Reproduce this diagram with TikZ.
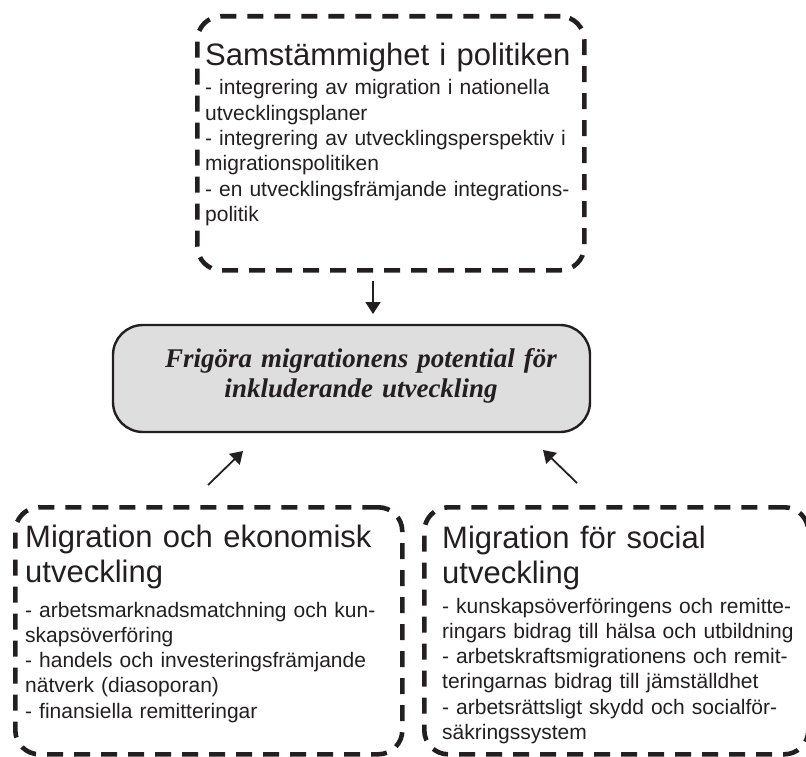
\documentclass[tikz,border=0pt]{standalone}
\usepackage{fontspec}
\setmainfont{Liberation Sans}
\newfontfamily\centerfont{Liberation Serif}
\usetikzlibrary{arrows.meta}
\definecolor{boxgray}{RGB}{222,222,223}
\definecolor{ink}{RGB}{35,31,32}
\tikzset{
  dbox/.style={draw=ink, line width=4.6pt, dash pattern=on 16pt off 11pt, rounded corners=24pt, inner sep=0pt},
  cbox/.style={draw=ink, fill=boxgray, line width=2.4pt, rounded corners=30pt, inner sep=0pt},
  ctxt/.style={anchor=base, inner sep=0pt, text width=420pt, align=center, text=ink,
    font=\centerfont\bfseries\itshape\fontsize{27}{30}\selectfont},
  arr/.style={draw=ink, line width=1.8pt, -{Triangle[length=12pt,width=15pt]}},
  headtxt/.style={anchor=base west, inner sep=0pt, text width=#1, align=left, text=ink,
    font=\fontsize{31}{35.5}\selectfont},
  bodytxt/.style={anchor=base west, inner sep=0pt, text width=#1, align=left, text=ink,
    font=\fontsize{21}{25.3}\selectfont},
}
\begin{document}
\begin{tikzpicture}[x=1pt,y=-1pt]
\useasboundingbox (0,0) rectangle (806,757);
% boxes
\node[dbox, anchor=north west, minimum width=387pt, minimum height=254pt] (topbox) at (195,14) {};
\node[dbox, anchor=north west, minimum width=387pt, minimum height=247pt] (leftbox) at (13,505) {};
\node[dbox, anchor=north west, minimum width=384pt, minimum height=247pt] (rightbox) at (422,505) {};
\node[cbox, minimum width=477pt, minimum height=107pt] (goal) at (351.5,378.5) {};
\node[ctxt] (goaltext) at (361,367) {Frigöra migrationens potential för\\inkluderande utveckling};
% top text
\node[headtxt=380pt] (tophead) at (205,66) {Samstämmighet i politiken};
\node[bodytxt=370pt] (topbody) at (205,95) {- integrering av migration i nationella\\
utvecklingsplaner\\
- integrering av utvecklingsperspektiv i\\
migrationspolitiken\\
- en utvecklingsfrämjande integrations-\\
politik};
% left text
\node[headtxt=380pt] (lefthead) at (25,547) {Migration och ekonomisk\\utveckling};
\node[bodytxt=370pt] (leftbody) at (25,617) {- arbetsmarknadsmatchning och kun-\\
skapsöverföring\\
- handels och investeringsfrämjande\\
nätverk (diasoporan)\\
- finansiella remitteringar};
% right text
\node[headtxt=360pt] (righthead) at (442,548) {Migration för social\\utveckling};
\node[bodytxt=360pt] (rightbody) at (442,613) {- kunskapsöverföringens och remitte-\\
ringars bidrag till hälsa och utbildning\\
- arbetskraftsmigrationens och remit-\\
teringarnas bidrag till jämställdhet\\
- arbetsrättsligt skydd och socialför-\\
säkringssystem};
% arrows
\coordinate (a1s) at (373,281);
\coordinate (a1e) at (373,314);
\coordinate (a2s) at (208,485);
\coordinate (a2e) at (243,451);
\coordinate (a3s) at (577,483);
\coordinate (a3e) at (543,450);
\draw[arr] (a1s) -- (a1e);
\draw[arr] (a2s) -- (a2e);
\draw[arr] (a3s) -- (a3e);
\end{tikzpicture}
\end{document}
